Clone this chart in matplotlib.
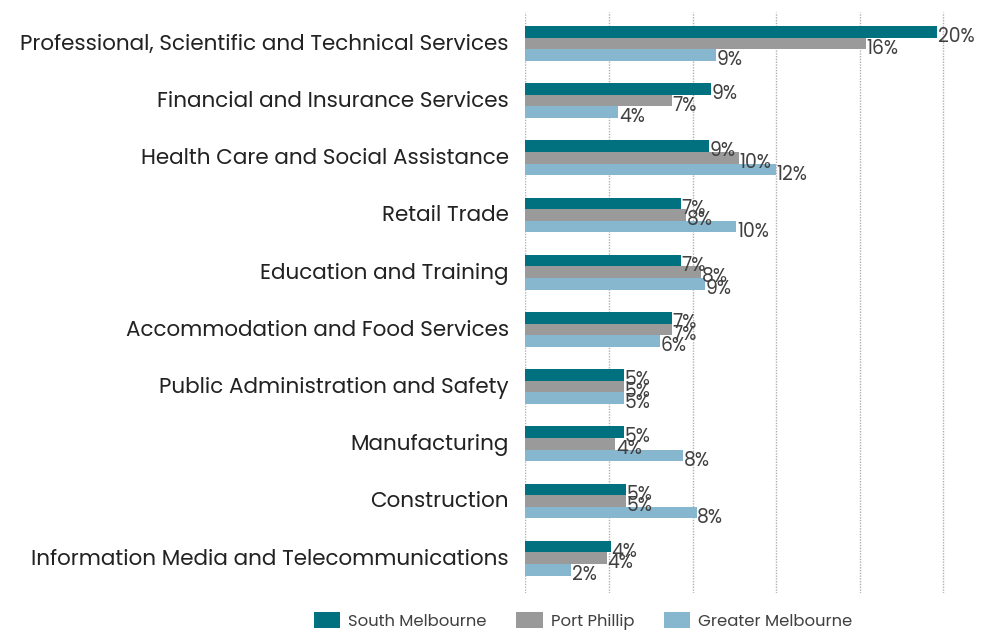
import numpy as np
import matplotlib.pyplot as plt

categories = [
    "Professional, Scientific and Technical Services",
    "Financial and Insurance Services",
    "Health Care and Social Assistance",
    "Retail Trade",
    "Education and Training",
    "Accommodation and Food Services",
    "Public Administration and Safety",
    "Manufacturing",
    "Construction",
    "Information Media and Telecommunications",
]

series_names = ["South Melbourne", "Port Phillip", "Greater Melbourne"]

south_melbourne = [19.7, 8.9, 8.8, 7.45, 7.45, 7.0, 4.7, 4.7, 4.8, 4.1]
port_phillip = [16.3, 7.0, 10.2, 7.7, 8.4, 7.0, 4.7, 4.3, 4.8, 3.9]
greater_melbourne = [9.1, 4.45, 12.0, 10.1, 8.6, 6.45, 4.7, 7.55, 8.2, 2.2]

COLORS = ["#02717F", "#9A9A9A", "#87B6CF"]
TEXT_COLOR = "#404040"
BAR_H = 0.203

plt.rcParams["font.family"] = ["Poppins", "Noto Sans", "DejaVu Sans"]

fig = plt.figure(figsize=(9.81, 6.31), dpi=100)
ax = fig.add_axes([0.5355, 0.060, 0.4304, 0.921])

y = np.arange(len(categories))
data = [south_melbourne, port_phillip, greater_melbourne]

for i, (vals, name, col) in enumerate(zip(data, series_names, COLORS)):
    pos = y + (i - 1) * BAR_H
    ax.barh(pos, vals, height=BAR_H, color=col, label=name, zorder=3)
    for p, v in zip(pos, vals):
        ax.text(v + 0.03, p + 0.09, f"{v:.0f}%", va="center", ha="left",
                fontsize=13.5, color=TEXT_COLOR, zorder=4)

ax.set_xlim(0, 20.2)
ax.set_ylim(len(categories) - 1 + 0.61, -0.55)
ax.set_xticks([0, 4, 8, 12, 16, 20])
ax.set_xticklabels([])
ax.tick_params(axis="x", length=0)
ax.set_yticks(y - 0.03)
ax.set_yticklabels(categories, fontsize=15.5, color="#222222")
ax.tick_params(axis="y", length=0, pad=12)
ax.grid(axis="x", linestyle=(0, (1, 1)), color="#B0B0B0", linewidth=1, zorder=0)
for s in ax.spines.values():
    s.set_visible(False)

ax.legend(loc="center", bbox_to_anchor=(0.5945, 0.016), bbox_transform=fig.transFigure,
          ncol=3, frameon=False, fontsize=11.8, handlelength=1.6, handleheight=1.1,
          columnspacing=1.8, handletextpad=0.5, labelcolor=TEXT_COLOR)

fig.savefig("out.png", dpi=100)
